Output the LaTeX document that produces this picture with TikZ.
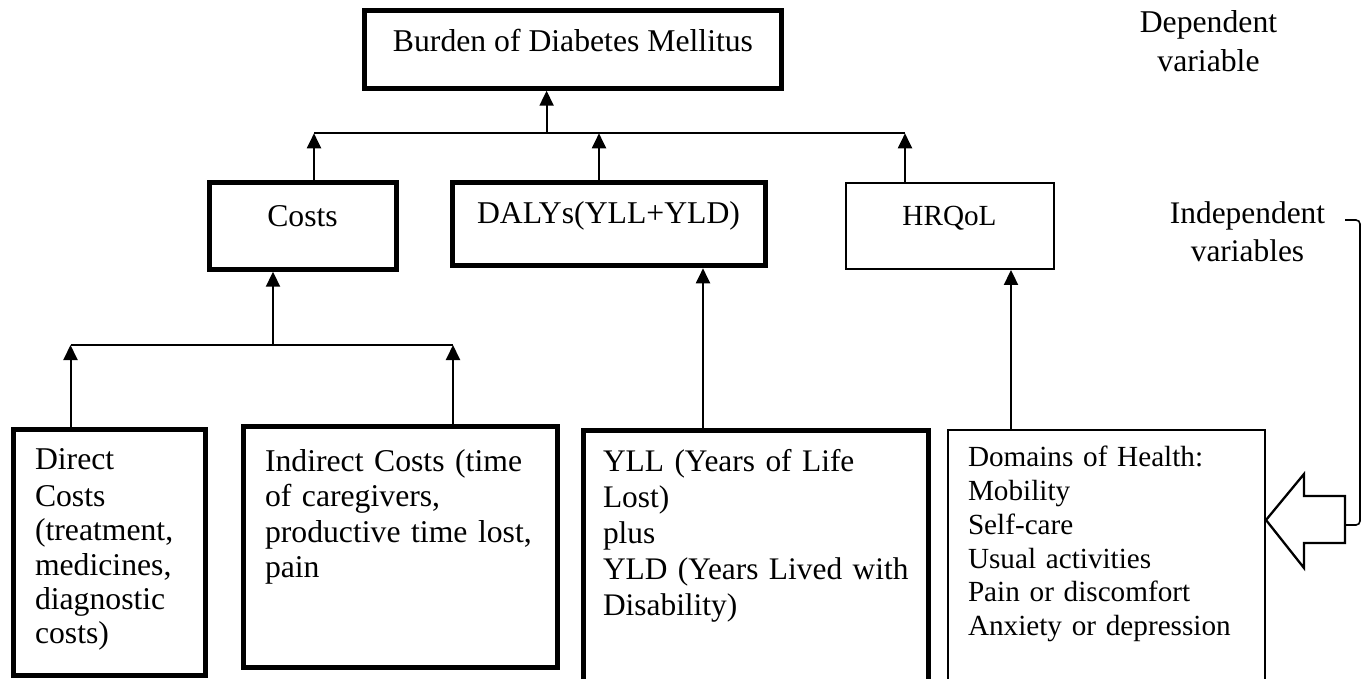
\documentclass[tikz,border=0pt]{standalone}
\usepackage{fontspec}
\setmainfont{Liberation Serif}
\usetikzlibrary{arrows.meta}
\newcommand\fontA{\fontsize{31.7}{35.5}\selectfont}
\newcommand\fontB{\fontsize{29.2}{33.7}\selectfont}
\begin{document}
\begin{tikzpicture}[x=1pt,y=-1pt,
  thickbox/.style={draw, line width=5pt, inner sep=0pt, rectangle},
  thinbox/.style={draw, line width=2.3pt, inner sep=0pt, rectangle},
  conn/.style={line width=2pt},
  arr/.style={line width=2pt, -{Triangle[length=15pt,width=14pt]}},
  lbl/.style={inner sep=0pt, outer sep=0pt}]
\useasboundingbox (0,0) rectangle (1366,678);
\begin{scope}
\clip (0,0) rectangle (1366,678);
% boxes
\node[thickbox, minimum width=417.3pt, minimum height=77.4pt] (burden) at (572.85,49.5) {};
\node[thickbox, minimum width=187.3pt, minimum height=86.7pt] (costs) at (302.85,225.85) {};
\node[thickbox, minimum width=313.3pt, minimum height=83.3pt] (dalys) at (609.15,224.15) {};
\node[thinbox, minimum width=207.6pt, minimum height=86pt] (hrqol) at (950,225.8) {};
\node[thickbox, minimum width=192pt, minimum height=246.3pt] (direct) at (109.5,552.35) {};
\node[thickbox, minimum width=314pt, minimum height=240.7pt] (indirect) at (400.5,547.15) {};
\node[thickbox, minimum width=345.3pt, minimum height=279.8pt] (yll) at (755.85,570.1) {};
\node[thinbox, minimum width=316.8pt, minimum height=279.8pt] (domains) at (1106.6,570.1) {};

% texts
\node[lbl, font=\fontA, anchor=base] (tburden) at (573,51.7) {Burden of Diabetes Mellitus};
\node[lbl, font=\fontA, anchor=base] (tcosts) at (302.5,226) {Costs};
\node[lbl, font=\fontA, anchor=base] (tdalys) at (608.5,223) {DALYs(YLL+YLD)};
\node[lbl, font=\fontB, anchor=base] (thrqol) at (949.5,225) {HRQoL};
\node[lbl, font=\fontsize{31.7}{39}\selectfont, text width=220pt, align=center, anchor=north] (tdep) at (1208.5,4.7) {\strut Dependent\\variable};
\node[lbl, font=\fontsize{31.4}{38}\selectfont, text width=220pt, align=center, anchor=north] (tindep) at (1247.5,196.4) {\strut Independent\\variables};
\node[lbl, font=\fontsize{31.7}{34.4}\selectfont, text width=180pt, align=left, anchor=north west] (tdirect) at (35,445.4) {\strut Direct\\[2.5pt]Costs\\(treatment,\\medicines,\\diagnostic\\costs)};
\node[lbl, font=\fontA, text width=300pt, align=left, anchor=north west] (tindirect) at (265,446.2) {\strut Indirect Costs (time\\of caregivers,\\productive time lost,\\pain};
\node[lbl, font=\fontsize{31.4}{36}\selectfont, text width=330pt, align=left, anchor=north west] (tyll) at (603,445.8) {\strut YLL (Years of Life\\Lost)\\plus\\YLD (Years Lived with\\Disability)};
\node[lbl, font=\fontB, text width=300pt, align=left, anchor=north west] (tdomains) at (968,443.4) {\strut Domains of Health:\\Mobility\\Self-care\\Usual activities\\Pain or discomfort\\Anxiety or depression};

% junctions
\coordinate (jb) at (546.6,133.3);
\coordinate (jl) at (314,133.3);
\coordinate (jm) at (599,133.3);
\coordinate (jr) at (905,133.3);
\coordinate (jc) at (273,345);
\coordinate (jd) at (70.5,345);
\coordinate (ji) at (453,345);
\coordinate (jy) at (703,345);
\coordinate (jh) at (1011,345);

% connectors
\draw[conn] (jl) -- (jr);
\draw[arr] (jb) -- (jb |- burden.south);
\draw[arr] (costs.north -| jl) -- (jl);
\draw[arr] (dalys.north -| jm) -- (jm);
\draw[arr] (hrqol.north -| jr) -- (jr);
\draw[conn] (jd) -- (ji);
\draw[arr] (jc) -- (jc |- costs.south);
\draw[arr] (direct.north -| jd) -- (jd);
\draw[arr] (indirect.north -| ji) -- (ji);
\draw[arr] (yll.north -| jy) -- (jy |- dalys.south);
\draw[arr] (domains.north -| jh) -- (jh |- hrqol.south);

% block arrow and bracket
\draw[line width=2.3pt, fill=white, line join=miter] (1266,520) -- (1304,474) -- (1304,496) -- (1345,496) -- (1345,543) -- (1304,543) -- (1304,568) -- cycle;
\draw[line width=1.6pt, rounded corners=4pt] (1345,220) -- (1360,220) -- (1360,525) -- (1345,525);
\end{scope}
\end{tikzpicture}
\end{document}
